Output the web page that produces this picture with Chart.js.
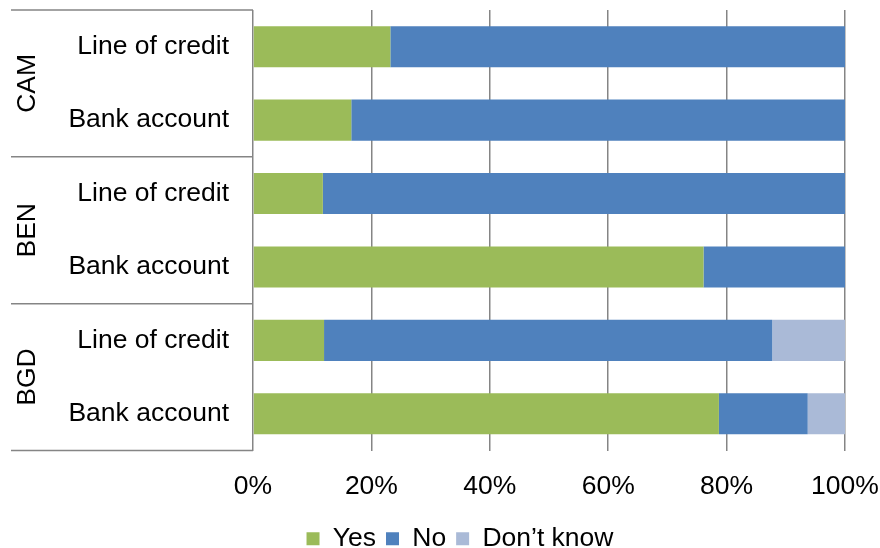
<!DOCTYPE html>
<html>
<head>
<meta charset="utf-8">
<script src="https://cdn.jsdelivr.net/npm/chart.js@4/dist/chart.umd.min.js"></script>
<style>
    html, body { margin: 0; padding: 0; background: #fff; }
    #wrap { width: 880px; height: 548px; }
</style>
</head>
<body>
<div id="wrap"><canvas id="accessChart"></canvas></div>
<script>
// Data
const rowLabels = ['Line of credit', 'Bank account', 'Line of credit', 'Bank account', 'Line of credit', 'Bank account'];
const groups = ['CAM', 'BEN', 'BGD'];
const yesValues = [23.2, 16.6, 11.8, 76.1, 12.0, 78.7];
const noValues = [76.8, 83.4, 88.2, 23.9, 75.7, 15.0];
const dontKnowValues = [0, 0, 0, 0, 12.3, 6.3];
const xTicks = [0, 20, 40, 60, 80, 100];

const gridGray = '#858585';
const fontFamily = '"Liberation Sans", Arial, sans-serif';

// Group labels + separator lines on the left
const groupPlugin = {
    id: 'groupLabels',
    afterDraw(chart) {
        const ctx = chart.ctx;
        const y = chart.scales.y;
        const left = 11;
        const right = chart.chartArea.left;
        ctx.save();
        ctx.strokeStyle = gridGray;
        ctx.lineWidth = 1.5;
        for (let g = 0; g <= groups.length; g++) {
            const py = g === 0 ? chart.chartArea.top : (g === groups.length ? chart.chartArea.bottom :
                (y.getPixelForValue(g * 2 - 1) + y.getPixelForValue(g * 2)) / 2);
            ctx.beginPath();
            ctx.moveTo(left, py);
            ctx.lineTo(right, py);
            ctx.stroke();
        }
        ctx.fillStyle = '#000';
        ctx.font = '26.5px ' + fontFamily;
        ctx.textAlign = 'center';
        ctx.textBaseline = 'middle';
        groups.forEach((name, g) => {
            const cy = (y.getPixelForValue(g * 2) + y.getPixelForValue(g * 2 + 1)) / 2;
            ctx.save();
            ctx.translate(28, cy);
            ctx.rotate(-Math.PI / 2);
            ctx.fillText(name, 0, 0);
            ctx.restore();
        });
        ctx.restore();
    }
};

// nudge legend like the original
const legendShift = {
    id: 'legendShift',
    afterLayout(chart) {
        chart.legend.left += 32;
        chart.legend.right += 32;
        chart.legend.top += 14;
        chart.legend.bottom += 14;
    }
};

new Chart(document.getElementById('accessChart'), {
    type: 'bar',
    data: {
        labels: rowLabels,
        datasets: [
            { label: 'Yes', data: yesValues, backgroundColor: '#9BBB59' },
            { label: 'No', data: noValues, backgroundColor: '#4F81BD' },
            { label: 'Don\u2019t know', data: dontKnowValues, backgroundColor: '#AABAD7' }
        ]
    },
    options: {
        indexAxis: 'y',
        responsive: true,
        maintainAspectRatio: false,
        animation: false,
        layout: { padding: { left: 11, top: 10, right: 35, bottom: 0 } },
        datasets: { bar: { categoryPercentage: 1, barPercentage: 0.56 } },
        scales: {
            x: {
                stacked: true,
                min: 0,
                max: 100,
                afterBuildTicks: (scale) => { scale.ticks = xTicks.map(v => ({ value: v })); },
                afterFit: (scale) => {
                    scale.height = 51;
                    scale.paddingLeft = 0;
                    scale.paddingRight = 0;
                },
                ticks: {
                    color: '#000',
                    font: { family: fontFamily, size: 26.5 },
                    padding: 20,
                    callback: v => v + '%'
                },
                grid: { color: gridGray, lineWidth: 1.5, drawTicks: false },
                border: { display: false }
            },
            y: {
                stacked: true,
                afterFit: (scale) => {
                    scale.width = 242;
                    scale.paddingTop = 0;
                    scale.paddingBottom = 0;
                },
                ticks: {
                    color: '#000',
                    font: { family: fontFamily, size: 26.5 },
                    padding: 16
                },
                grid: { display: false },
                border: { display: false }
            }
        },
        plugins: {
            legend: {
                position: 'bottom',
                labels: {
                    color: '#000',
                    font: { family: fontFamily, size: 26.5 },
                    boxWidth: 13,
                    boxHeight: 13,
                    padding: 10
                }
            },
            tooltip: { enabled: false }
        }
    },
    plugins: [groupPlugin, legendShift]
});
</script>
</body>
</html>
